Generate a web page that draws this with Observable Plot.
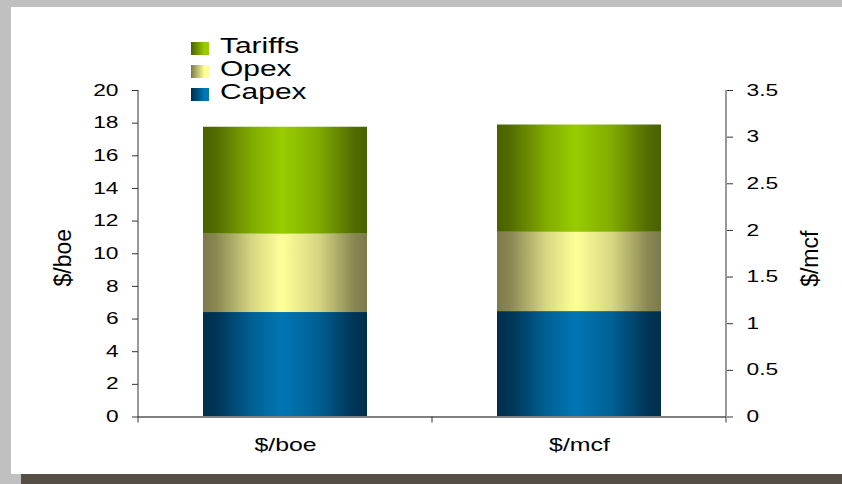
<!DOCTYPE html>
<html>
<head>
<meta charset="utf-8">
<script src="https://cdn.jsdelivr.net/npm/d3@7"></script>
<script src="https://cdn.jsdelivr.net/npm/@observablehq/plot@0.6"></script>
<style>
  html, body { margin: 0; padding: 0; }
  body { width: 842px; height: 484px; background: #c0c0c0; position: relative; overflow: hidden;
         font-family: "Liberation Sans", Arial, sans-serif; }
  #panel { position: absolute; left: 11px; top: 7px; width: 831px; height: 467px; background: #ffffff; }
  #strip { position: absolute; left: 21px; top: 474px; width: 821px; height: 10px; background: #554e47; }
  #chart { position: absolute; left: 0; top: 0; }
  #legend { position: absolute; left: 0; top: 0; width: 0; height: 0; z-index: 2; }
  .lg-sw { position: absolute; width: 18px; height: 13px; }
  .lg-tx { position: absolute; font-size: 22px; line-height: 22px; color: #000; white-space: nowrap;
           transform: scaleX(1.36); transform-origin: left center; }
</style>
</head>
<body>
<div id="panel">
  <div id="chart"></div>
  <div id="legend"></div>
</div>
<div id="strip"></div>
<script>
// ---- data ----
const categories = ["$/boe", "$/mcf"];
const components = ["Capex", "Opex", "Tariffs"];
const boeValues = [6.4, 4.8, 6.55];     // $/boe (left axis)
const mcfValues = [1.13, 0.85, 1.15];   // $/mcf (right axis)
const leftTicks = [0, 2, 4, 6, 8, 10, 12, 14, 16, 18, 20];
const rightTicks = [0, 0.5, 1, 1.5, 2, 2.5, 3, 3.5];
const leftMax = 20;
const rightMax = 3.5;
const legendOrder = ["Tariffs", "Opex", "Capex"];
const leftTitle = "$/boe";
const rightTitle = "$/mcf";

// ---- styles ----
const palette = {
  Capex: ["#002e4c", "#0076b4"],
  Opex: ["#7d7a4b", "#ffff99"],
  Tariffs: ["#4a6100", "#99cc00"]
};

// right axis values expressed on the left scale
const k = leftMax / rightMax;
const rows = [];
components.forEach((c, i) => {
  rows.push({cat: categories[0], comp: c, value: boeValues[i]});
  rows.push({cat: categories[1], comp: c, value: mcfValues[i] * k});
});

function frameLines(index, scales, values, dim) {
  const g = d3.create("svg:g");
  const x0 = dim.marginLeft, x1 = dim.width - dim.marginRight;
  const yT = dim.marginTop, yB = dim.height - dim.marginBottom;
  [x0, x1].forEach(x => g.append("line").attr("x1", x).attr("x2", x).attr("y1", yT).attr("y2", yB)
    .attr("stroke", "#333").attr("stroke-width", 1));
  const n = categories.length;
  for (let i = 0; i <= n; i++) {
    const x = x0 + (x1 - x0) * i / n;
    g.append("line").attr("x1", x).attr("x2", x).attr("y1", yB).attr("y2", yB + 6)
      .attr("stroke", "#333").attr("stroke-width", 1);
  }
  return g.node();
}

const fmt = d3.format("~g");
const svg = Plot.plot({
  width: 831,
  height: 467,
  marginLeft: 127,
  marginRight: 116,
  marginTop: 83,
  marginBottom: 57.5,
  style: {fontFamily: "'Liberation Sans', Arial, sans-serif", background: "transparent", color: "#000", overflow: "visible"},
  x: {domain: categories, paddingInner: 0.442, paddingOuter: 0.221},
  y: {domain: [0, leftMax]},
  color: {type: "ordinal", domain: components, range: components.map(c => `url(#grad-${c})`)},
  marks: [
    Plot.barY(rows, {x: "cat", y: "value", fill: "comp"}),
    Plot.ruleY([0], {stroke: "#808080", strokeWidth: 2}),
    frameLines,
    Plot.axisY({anchor: "left", ticks: leftTicks, tickFormat: d => fmt(d), tickSize: 6, tickPadding: 14,
      fontSize: 16, stroke: "#333", label: null}),
    Plot.axisY({anchor: "right", ticks: rightTicks.map(v => v * k), tickFormat: d => fmt(+(d / k).toFixed(2)),
      tickSize: 6, tickPadding: 14, fontSize: 16, stroke: "#333", label: null}),
    Plot.axisX({anchor: "bottom", tickSize: 0, tickPadding: 22, fontSize: 17.5, label: null}),
    Plot.text([leftTitle], {text: d => d, frameAnchor: "left", rotate: -90, dx: -75, dy: 4,
      fontSize: 23, textAnchor: "middle", lineAnchor: "middle", fill: "#000"}),
    Plot.text([rightTitle], {text: d => d, frameAnchor: "right", rotate: -90, dx: 84, dy: 5,
      fontSize: 23, textAnchor: "middle", lineAnchor: "middle", fill: "#000"})
  ]
});

document.getElementById("chart").append(svg);

// gradients
const defs = d3.select(svg).insert("defs", ":first-child");
components.forEach(c => {
  const [dark, light] = palette[c];
  const mid = d3.interpolateRgb(dark, light);
  const lg = defs.append("linearGradient").attr("id", `grad-${c}`)
    .attr("x1", 0).attr("x2", 1).attr("y1", 0).attr("y2", 0);
  [[0, 0], [0.08, 0.1], [0.3, 0.7], [0.48, 1], [0.7, 0.7], [0.92, 0.1], [1, 0]].forEach(([o, t]) =>
    lg.append("stop").attr("offset", o).attr("stop-color", mid(t)));
});

// horizontally widened labels, as in the reference
d3.select(svg).selectAll('g[aria-label="y-axis tick label"] text, g[aria-label="x-axis tick label"] text')
  .each(function() {
    const L = this.getComputedTextLength();
    this.setAttribute("textLength", (L * 1.42).toFixed(1));
    this.setAttribute("lengthAdjust", "spacingAndGlyphs");
  });

// legend
const legend = d3.select("#legend");
legendOrder.forEach((c, i) => {
  const [dark, light] = palette[c];
  const top = 27.7 + i * 23.3;
  legend.append("div").attr("class", "lg-sw")
    .style("left", "180px").style("top", (top + 7) + "px")
    .style("background", `linear-gradient(to right, ${dark}, ${light} 75%, ${light})`);
  legend.append("div").attr("class", "lg-tx")
    .style("left", "209px").style("top", top + "px").text(c);
});
</script>
</body>
</html>
